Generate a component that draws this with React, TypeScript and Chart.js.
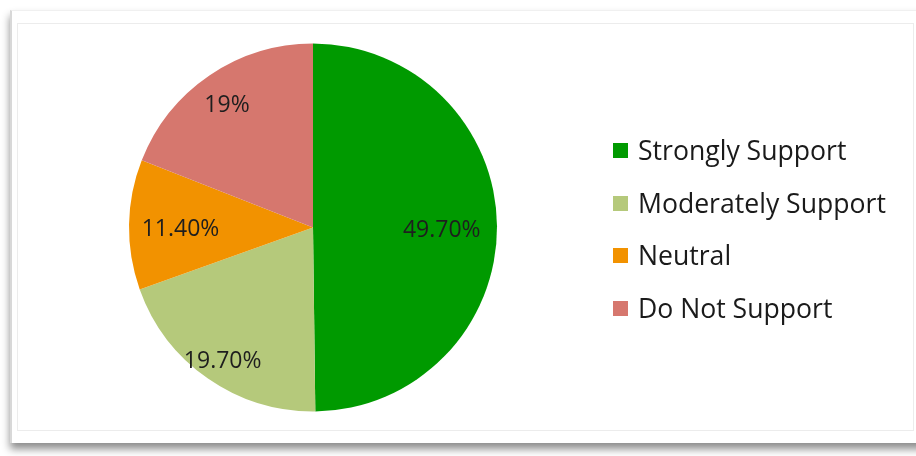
import React, { useEffect, useRef } from "react";
import { Chart, registerables } from "chart.js";

Chart.register(...registerables);

const categories = ["Strongly Support", "Moderately Support", "Neutral", "Do Not Support"];
const values = [49.7, 19.7, 11.4, 19];
const valueLabels = ["49.70%", "19.70%", "11.40%", "19%"];
const colors = ["#009a00", "#b5c97b", "#f29200", "#d6776e"];
const labelRadius = [0.7, 0.86, 0.72, 0.83];

const FONT = "'Open Sans', sans-serif";

const labelPlugin = {
  id: "sliceLabels",
  afterDatasetsDraw(chart: any) {
    const ctx = chart.ctx;
    const meta = chart.getDatasetMeta(0);
    ctx.save();
    ctx.font = `23px ${FONT}`;
    ctx.fillStyle = "#1e1e1e";
    ctx.textAlign = "center";
    ctx.textBaseline = "middle";
    meta.data.forEach((arc: any, i: number) => {
      const { x, y, outerRadius, startAngle, endAngle } = arc.getProps(
        ["x", "y", "outerRadius", "startAngle", "endAngle"],
        true
      );
      const mid = (startAngle + endAngle) / 2;
      const r = outerRadius * labelRadius[i];
      ctx.fillText(valueLabels[i], x + Math.cos(mid) * r, y + Math.sin(mid) * r + 4);
    });
    ctx.restore();
  },
};

const legendPlugin = {
  id: "sideLegend",
  afterDraw(chart: any) {
    const ctx = chart.ctx;
    ctx.save();
    let size = 24;
    ctx.font = `${size}px ${FONT}`;
    const w = ctx.measureText("Moderately Support").width;
    size = Math.max(18, Math.min(28, (size * 248) / w));
    ctx.font = `${size}px ${FONT}`;
    ctx.textBaseline = "alphabetic";
    ctx.textAlign = "left";
    const x0 = 613;
    const base0 = 160;
    const step = 52.6;
    const cap = size * 0.714;
    categories.forEach((c, i) => {
      const base = base0 + i * step;
      const capMid = base - cap / 2;
      ctx.fillStyle = colors[i];
      ctx.fillRect(x0, Math.round(capMid - 7.5), 15, 15);
      ctx.fillStyle = "#1a1a1a";
      ctx.fillText(c, 638, base);
    });
    ctx.restore();
  },
};

export default function App() {
  const ref = useRef<HTMLCanvasElement>(null);
  useEffect(() => {
    if (!ref.current) return;
    const chart = new Chart(ref.current, {
      type: "pie",
      data: {
        labels: categories,
        datasets: [
          {
            data: values,
            backgroundColor: colors,
            borderWidth: 0,
          },
        ],
      },
      options: {
        animation: false,
        responsive: false,
        maintainAspectRatio: false,
        layout: { padding: { left: 129, right: 419, top: 43, bottom: 44 } },
        plugins: {
          legend: { display: false },
          tooltip: { enabled: false },
        },
      },
      plugins: [labelPlugin, legendPlugin],
    });
    return () => chart.destroy();
  }, []);

  return (
    <div style={{ position: "fixed", left: 0, top: 0, width: 916, height: 456, background: "#fff", overflow: "hidden" }}>
      <div
        style={{
          position: "absolute",
          left: 10,
          top: 10,
          width: 920,
          height: 432,
          background: "#fff",
          borderLeft: "2px solid #d8d8d8",
          borderTop: "1px solid #f0f0f0",
          boxShadow: "0 6px 8px rgba(0,0,0,0.45)",
        }}
      />
      <div
        style={{
          position: "absolute",
          left: 17,
          top: 23,
          width: 895,
          height: 406,
          border: "1px solid #ececec",
          background: "#fff",
        }}
      />
      <canvas ref={ref} width={916} height={456} style={{ position: "absolute", left: 0, top: 0 }} />
    </div>
  );
}
